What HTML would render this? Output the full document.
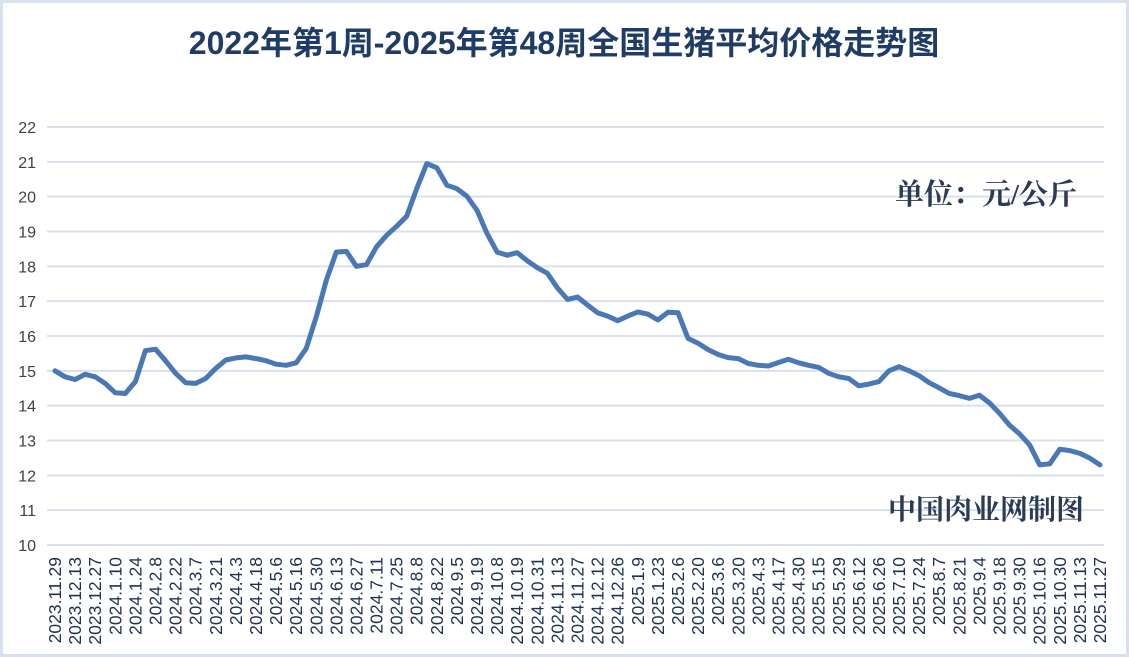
<!DOCTYPE html>
<html><head><meta charset="utf-8"><style>
html,body{margin:0;padding:0;background:#fff;}
svg{display:block;}
</style></head><body>
<svg width="1129" height="657" xmlns="http://www.w3.org/2000/svg">
<rect x="1.5" y="1.5" width="1126" height="654" fill="#fff" stroke="#d8e2ee" stroke-width="3"/>
<text x="564" y="54" text-anchor="middle" font-family="'Liberation Sans','Noto Sans CJK SC',sans-serif" font-weight="bold" font-size="32" fill="#1f3c66">2022年第1周-2025年第48周全国生猪平均价格走势图</text>
<g id="grid" stroke="#d9e1ec" stroke-width="2"></g>
<g id="ylab" font-family="'Liberation Sans',sans-serif" font-size="16" fill="#404040" text-anchor="end"></g>
<g id="xlab" font-family="'Liberation Sans',sans-serif" font-size="17.5" fill="#1f3050"></g>
<polyline id="line" fill="none" stroke="#4a78b5" stroke-width="5" stroke-linejoin="round" stroke-linecap="round"/>
<text x="986" y="204" text-anchor="middle" font-family="'Liberation Serif','Noto Serif CJK SC',serif" font-weight="bold" font-size="29" fill="#2b3a55">单位：元/公斤</text>
<text x="986" y="519" text-anchor="middle" font-family="'Liberation Serif','Noto Serif CJK SC',serif" font-weight="bold" font-size="28" fill="#2b3a55">中国肉业网制图</text>
</svg>
<script>
var ns="http://www.w3.org/2000/svg";
var top0=127,unit=(545-127)/12;
function Y(v){return top0+(22-v)*unit;}
var g=document.getElementById("grid"),yl=document.getElementById("ylab"),xl=document.getElementById("xlab");
for(var v=10;v<=22;v++){
 var l=document.createElementNS(ns,"line");l.setAttribute("x1",47);l.setAttribute("x2",1104);
 l.setAttribute("y1",Y(v));l.setAttribute("y2",Y(v));g.appendChild(l);
 var t=document.createElementNS(ns,"text");t.setAttribute("x",36);t.setAttribute("y",Y(v)+6);t.textContent=v;yl.appendChild(t);
}
var d=[15.0,14.83,14.75,14.9,14.83,14.64,14.37,14.35,14.69,15.58,15.62,15.29,14.93,14.66,14.64,14.78,15.07,15.31,15.37,15.40,15.35,15.29,15.19,15.16,15.23,15.64,16.55,17.6,18.41,18.43,18.0,18.05,18.56,18.89,19.15,19.44,20.23,20.95,20.83,20.33,20.23,20.01,19.61,18.94,18.41,18.32,18.39,18.16,17.96,17.8,17.38,17.05,17.12,16.89,16.67,16.57,16.44,16.57,16.69,16.63,16.46,16.68,16.67,15.93,15.79,15.61,15.47,15.38,15.35,15.21,15.16,15.14,15.24,15.33,15.23,15.16,15.1,14.93,14.83,14.78,14.57,14.62,14.69,15.0,15.12,15.0,14.86,14.66,14.51,14.35,14.29,14.21,14.30,14.08,13.78,13.44,13.19,12.87,12.3,12.33,12.75,12.71,12.63,12.49,12.3];
var step=(1100-55)/104,pts=[];
for(var i=0;i<d.length;i++)pts.push((55+i*step).toFixed(1)+","+Y(d[i]).toFixed(1));
document.getElementById("line").setAttribute("points",pts.join(" "));
var labs="2023.11.29 2023.12.13 2023.12.27 2024.1.10 2024.1.24 2024.2.8 2024.2.22 2024.3.7 2024.3.21 2024.4.3 2024.4.18 2024.5.6 2024.5.16 2024.5.30 2024.6.13 2024.6.27 2024.7.11 2024.7.25 2024.8.8 2024.8.22 2024.9.5 2024.9.19 2024.10.8 2024.10.19 2024.10.31 2024.11.13 2024.11.27 2024.12.12 2024.12.26 2025.1.9 2025.1.23 2025.2.6 2025.2.20 2025.3.6 2025.3.20 2025.4.3 2025.4.17 2025.4.30 2025.5.15 2025.5.29 2025.6.12 2025.6.26 2025.7.10 2025.7.24 2025.8.7 2025.8.21 2025.9.4 2025.9.18 2025.9.30 2025.10.16 2025.10.30 2025.11.13 2025.11.27".split(" ");
for(var k=0;k<labs.length;k++){
 var x=55+2*k*step+6;
 var t=document.createElementNS(ns,"text");t.setAttribute("text-anchor","end");
 t.setAttribute("transform","translate("+x.toFixed(1)+",557) rotate(-90)");t.textContent=labs[k];xl.appendChild(t);
}
</script>
</body></html>
